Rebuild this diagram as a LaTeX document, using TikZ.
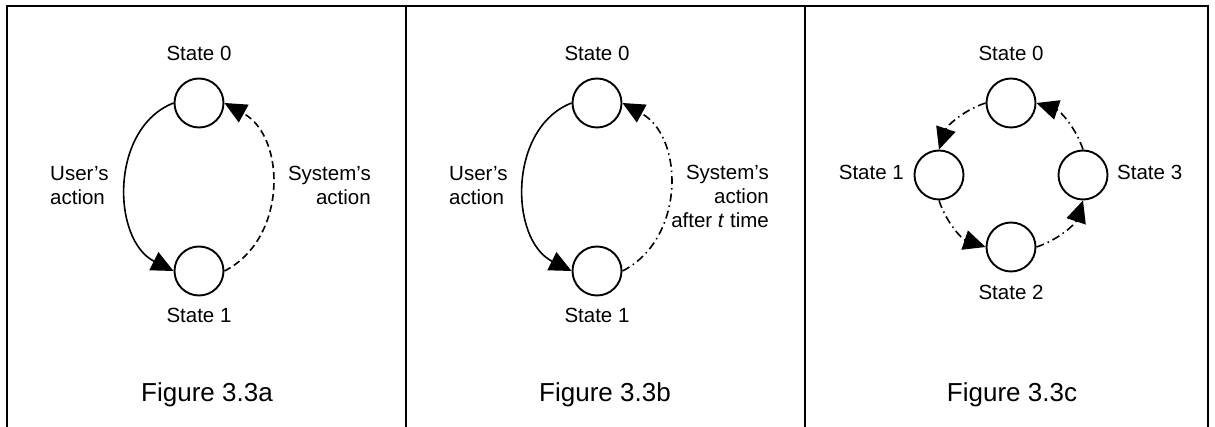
\documentclass[tikz,border=0pt]{standalone}
\usepackage{fontspec}
\setmainfont{Liberation Sans}
\usetikzlibrary{arrows.meta}
\begin{document}
\begin{tikzpicture}[x=1pt,y=-1pt,
  state/.style={circle,draw,line width=1.9pt,minimum size=49pt,inner sep=0pt},
  lbl/.style={font=\fontsize{20.5}{24}\selectfont,inner sep=0pt},
  figcap/.style={font=\fontsize{26}{30}\selectfont,inner sep=0pt,anchor=base},
  arrtip/.style={-{Triangle[length=22pt,width=20pt]}},
  solidarr/.style={arrtip,line width=1.6pt},
  dasharr/.style={arrtip,line width=1.6pt,dash pattern=on 7pt off 4pt},
  dotarr/.style={arrtip,line width=1.6pt,dash pattern=on 8pt off 4pt on 1.5pt off 4pt},
  frameline/.style={line width=2.2pt}]
\useasboundingbox (0,0) rectangle (1215,427);
% frame
\draw[frameline] (7,427) -- (7,6) -- (1208,6) -- (1208,427);
\draw[frameline] (406,6) -- (406,427);
\draw[frameline] (805,6) -- (805,427);

% ---------- Figure 3.3a ----------
\node[state] (a0) at (199,103) {};
\node[state] (a1) at (199,271) {};
\node[lbl,anchor=base] (a0l) at (199,61) {State 0};
\node[lbl,anchor=base] (a1l) at (199,323) {State 1};
\node[lbl,anchor=west,align=left] (au) at (50,185.5) {User’s\\action};
\node[lbl,anchor=east,align=right] (as) at (371,185.5) {System’s\\action};
\node[figcap] (acap) at (207,401) {Figure 3.3a};
\draw[solidarr] (a0.west) .. controls +(-64,25) and +(-62,-31) .. (a1.west);
\draw[dasharr] (a1.east) .. controls +(63,-32) and +(62,34) .. (a0.east);

% ---------- Figure 3.3b ----------
\node[state] (b0) at (597,103) {};
\node[state] (b1) at (597,271) {};
\node[lbl,anchor=base] (b0l) at (597,61) {State 0};
\node[lbl,anchor=base] (b1l) at (597,323) {State 1};
\node[lbl,anchor=west,align=left] (bu) at (449,185.5) {User’s\\action};
\node[lbl,anchor=east,align=right] (bs) at (769,196.7) {System’s\\action\\after \textit{t} time};
\node[figcap] (bcap) at (605,401) {Figure 3.3b};
\draw[solidarr] (b0.west) .. controls +(-64,25) and +(-62,-31) .. (b1.west);
\draw[dotarr] (b1.east) .. controls +(63,-32) and +(62,34) .. (b0.east);

% ---------- Figure 3.3c ----------
\node[state] (c0) at (1011,103) {};
\node[state] (c1) at (939,175) {};
\node[state] (c2) at (1011,247) {};
\node[state] (c3) at (1083,175) {};
\node[lbl,anchor=base] (c0l) at (1011,61) {State 0};
\node[lbl,anchor=base east] (c1l) at (904,180) {State 1};
\node[lbl,anchor=base] (c2l) at (1011,300) {State 2};
\node[lbl,anchor=base west] (c3l) at (1117,180) {State 3};
\node[figcap] (ccap) at (1012,401) {Figure 3.3c};
\draw[dotarr] (c0.west) .. controls +(-23,7.6) and +(7.6,-23) .. (c1.north);
\draw[dotarr] (c1.south) .. controls +(7.6,23) and +(-23,-7.6) .. (c2.west);
\draw[dotarr] (c2.east) .. controls +(23,-7.6) and +(-7.6,23) .. (c3.south);
\draw[dotarr] (c3.north) .. controls +(-7.6,-23) and +(23,7.6) .. (c0.east);
\end{tikzpicture}
\end{document}
